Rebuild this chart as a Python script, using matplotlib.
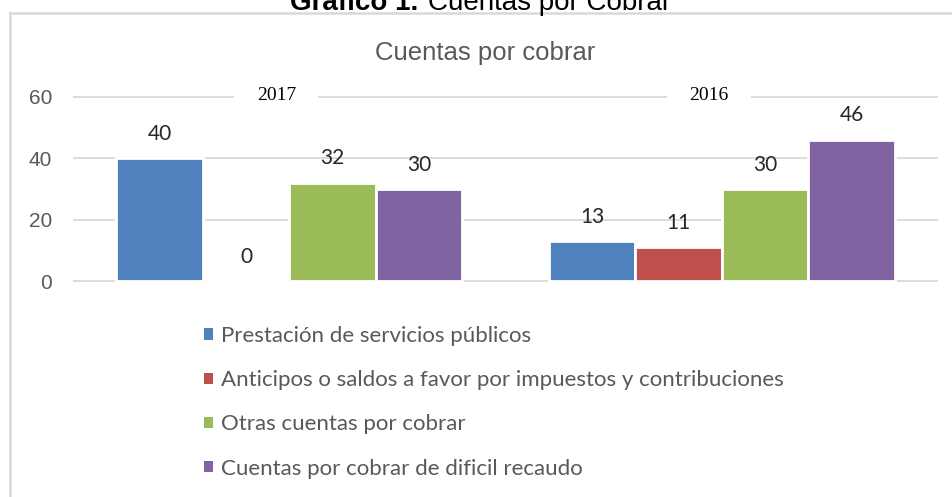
import matplotlib.pyplot as plt
import numpy as np
from matplotlib.lines import Line2D
from matplotlib.patches import Patch

years = ['2017', '2016']
series = ['Prestación de servicios públicos',
          'Anticipos o saldos a favor por impuestos y contribuciones',
          'Otras cuentas por cobrar',
          'Cuentas por cobrar de dificil recaudo']
values = {
    'Prestación de servicios públicos': [40, 13],
    'Anticipos o saldos a favor por impuestos y contribuciones': [0, 11],
    'Otras cuentas por cobrar': [32, 30],
    'Cuentas por cobrar de dificil recaudo': [30, 46],
}
colors = ['#4F81BD', '#C0504D', '#9BBB59', '#8064A2']
yticks = [0, 20, 40, 60]

W, H = 953, 497
fig = plt.figure(figsize=(W / 100, H / 100), dpi=100)

# axes placed in pixel terms (y=0 at 281px, y=60 at 97px from top)
ppu = (281.3 - 96.7) / 60
y0_px = 281.3 + ppu * 1
y1_px = 96.7 - ppu * 1
ax = fig.add_axes([73 / W, (H - y0_px) / H, (938 - 73) / W, (y0_px - y1_px) / H])
ax.set_ylim(-1, 61)
ax.set_xlim(-0.5, 1.5)

x = np.arange(len(years))
slot = 0.2
for i, name in enumerate(series):
    pos = x + (i - 1.5) * slot
    bars = ax.bar(pos, values[name], width=slot, color=colors[i],
                  edgecolor='white', linewidth=2.0, zorder=2)
    for xp, v in zip(pos, values[name]):
        ax.annotate(str(v), (xp, v), xytext=(0, 13.3), textcoords='offset points',
                    ha='center', va='baseline', fontsize=15, family='Lato',
                    color='#262626')

# category labels sitting on the top gridline
for xi, yr in zip(x, years):
    ax.annotate(yr, (xi - 0.03, 60), xytext=(0, -2.4), textcoords='offset points',
                ha='center', va='baseline', fontsize=14, family='Liberation Serif',
                color='black', zorder=5,
                bbox=dict(boxstyle='square,pad=1.15', fc='white', ec='none'))

ax.set_yticks(yticks)
ax.set_xticks([])
ax.yaxis.grid(True, color='#d9d9d9', linewidth=1.3, zorder=0)
ax.set_axisbelow(True)
ax.tick_params(axis='y', length=0, pad=15, labelsize=15, labelcolor='#595959')
for lab in ax.get_yticklabels():
    lab.set_family('Liberation Sans')
for s in ax.spines.values():
    s.set_visible(False)

fig.text(485 / W, 1 - 60 / H, 'Cuentas por cobrar', ha='center', va='baseline',
         fontsize=18.5, family='Liberation Sans', color='#595959')

# caption clipped at the top of the page
fig.text(418 / W, 1 - 9.5 / H, 'Gráfico 1.', ha='right', va='baseline',
         fontsize=20, family='Liberation Sans', weight='bold', color='black')
fig.text(428 / W, 1 - 9.5 / H, 'Cuentas por Cobrar', ha='left', va='baseline',
         fontsize=20, family='Liberation Sans', color='black')

# chart frame (left and top edges visible)
fig.add_artist(Line2D([10 / W, 10 / W], [0, 1 - 13 / H], color='#d9d9d9', lw=1.8,
                      transform=fig.transFigure))
fig.add_artist(Line2D([10 / W, 1], [1 - 13 / H, 1 - 13 / H], color='#d9d9d9', lw=1.8,
                      transform=fig.transFigure))

handles = [Patch(facecolor=c, edgecolor='none') for c in colors]
fig.legend(handles, series, loc='upper left', bbox_to_anchor=(204 / W, 1 - 326 / H),
           frameon=False, ncol=1, prop={'family': 'Lato', 'size': 16},
           labelcolor='#595959', handlelength=0.42, handleheight=0.42,
           handletextpad=0.35, labelspacing=1.09, borderpad=0, borderaxespad=0)

fig.savefig('out.png', dpi=100)
